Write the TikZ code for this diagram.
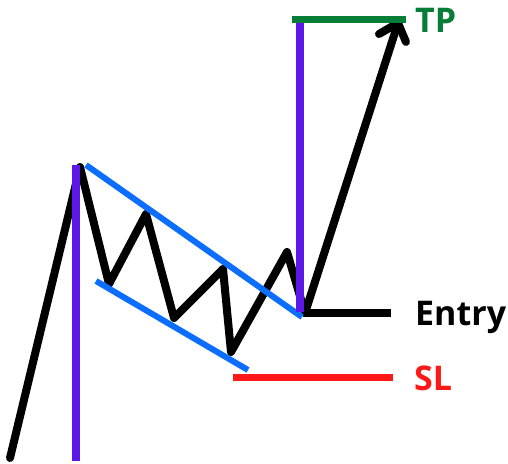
\documentclass[tikz,border=0pt]{standalone}
\usepackage{fontspec}
\setmainfont{Open Sans}
\definecolor{vpurple}{RGB}{92,24,232}
\definecolor{fblue}{RGB}{12,110,255}
\definecolor{tpgreen}{RGB}{6,126,56}
\definecolor{slred}{RGB}{255,24,24}
\begin{document}
\begin{tikzpicture}[x=1pt,y=-1pt,
  price/.style={line width=8pt,line cap=round,line join=round,black},
  flagline/.style={line width=6pt,fblue},
  vline/.style={line width=8pt,vpurple},
  lvl/.style={line width=7pt},
  lbl/.style={font=\fontsize{34}{34}\selectfont\bfseries,inner sep=0pt,anchor=base west}]
\useasboundingbox (0,0) rectangle (508,463);
% coordinates of the price path
\coordinate (p0) at (10,458);
\coordinate (p1) at (80,167);
\coordinate (p2) at (109,284);
\coordinate (p3) at (146,214);
\coordinate (p4) at (174,318);
\coordinate (p5) at (223,269);
\coordinate (p6) at (231,352);
\coordinate (p7) at (287,252);
\coordinate (p8) at (305,313);
\coordinate (tip) at (398,23);
\coordinate (armL) at (379,34);
\coordinate (armR) at (406,42);
\coordinate (entryEnd) at (391,313);
% price path
\draw[price] (p0) -- (p1) -- (p2) -- (p3) -- (p4) -- (p5) -- (p6) -- (p7) -- (p8);
\draw[price] (p8) -- (tip);
\draw[price] (armL) -- (tip) -- (armR);
\draw[line width=8pt,black] (p8) -- (entryEnd);
% flag channel
\coordinate (u1) at (86,165);
\coordinate (u2) at (302,317);
\coordinate (l1) at (96,281);
\coordinate (l2) at (248,370);
\draw[flagline] (u1) -- (u2);
\draw[flagline] (l1) -- (l2);
% poles
\coordinate (v1a) at (75.5,165);
\coordinate (v1b) at (75.5,461);
\coordinate (v2a) at (300,17);
\coordinate (v2b) at (300,312);
\draw[vline] (v1a) -- (v1b);
\draw[vline] (v2a) -- (v2b);
% levels
\coordinate (tpA) at (292,19);
\coordinate (tpB) at (406,19);
\coordinate (slA) at (233,377);
\coordinate (slB) at (393,377);
\draw[lvl,tpgreen] (tpA) -- (tpB);
\draw[lvl,slred] (slA) -- (slB);
% labels
\node[lbl,text=tpgreen] (tp) at (415,32) {TP};
\node[lbl,text=black] (entry) at (415,325) {Entry};
\node[lbl,text=slred] (sl) at (414,390) {SL};
\end{tikzpicture}
\end{document}
